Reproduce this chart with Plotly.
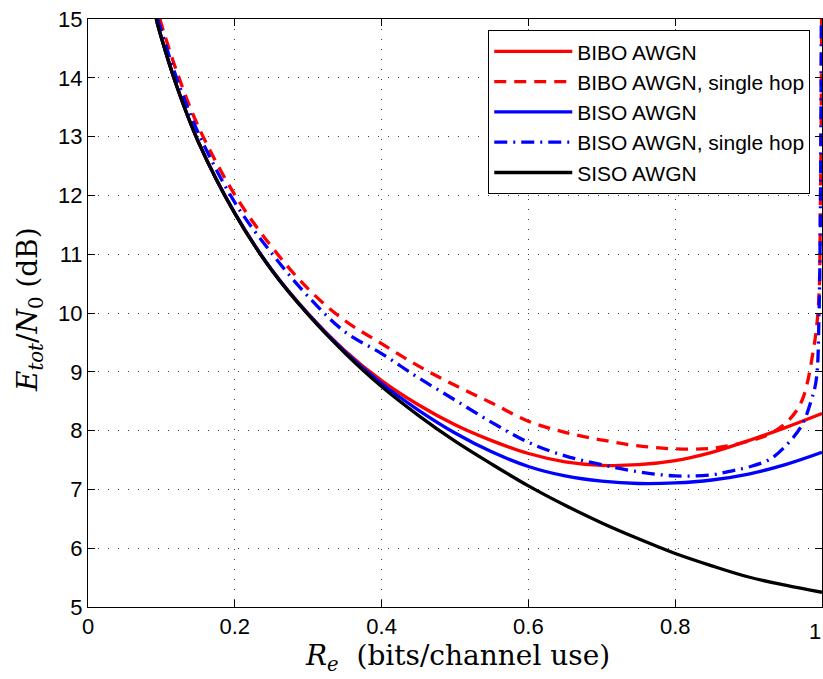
import plotly.graph_objects as go

# ---- data ----
siso_x = [0.093, 0.1, 0.12, 0.15, 0.2, 0.25, 0.3, 0.35, 0.4, 0.45, 0.5, 0.55, 0.6, 0.65, 0.7, 0.75, 0.8, 0.85, 0.9, 0.95, 1.0]
siso_y = [15.0, 14.68, 13.89, 12.92, 11.69, 10.73, 9.97, 9.32, 8.75, 8.26, 7.82, 7.43, 7.06, 6.73, 6.43, 6.16, 5.91, 5.70, 5.51, 5.37, 5.25]

bibo_x = [0.093, 0.1, 0.12, 0.15, 0.2, 0.25, 0.3, 0.35, 0.4, 0.45, 0.5, 0.55, 0.6, 0.65, 0.7, 0.75, 0.8, 0.85, 0.9, 0.95, 1.0]
bibo_y = [15.0, 14.68, 13.89, 12.92, 11.70, 10.74, 9.99, 9.36, 8.85, 8.44, 8.10, 7.83, 7.61, 7.47, 7.41, 7.42, 7.49, 7.63, 7.83, 8.05, 8.29]

biso_x = [0.093, 0.1, 0.12, 0.15, 0.2, 0.25, 0.3, 0.35, 0.4, 0.45, 0.5, 0.55, 0.6, 0.65, 0.7, 0.75, 0.8, 0.85, 0.9, 0.95, 1.0]
biso_y = [15.0, 14.68, 13.89, 12.92, 11.70, 10.74, 9.98, 9.34, 8.80, 8.35, 7.96, 7.64, 7.39, 7.23, 7.14, 7.10, 7.11, 7.16, 7.26, 7.42, 7.63]

bibo_sh_x = [0.098, 0.1, 0.12, 0.15, 0.2, 0.25, 0.3, 0.35, 0.4, 0.45, 0.5, 0.55, 0.6, 0.65, 0.7, 0.75, 0.8, 0.85, 0.9, 0.93, 0.955, 0.973, 0.988, 0.995, 0.998, 0.9995]
bibo_sh_y = [15.0, 14.91, 14.14, 13.18, 12.01, 11.13, 10.41, 9.87, 9.48, 9.10, 8.77, 8.47, 8.16, 7.97, 7.84, 7.74, 7.69, 7.70, 7.82, 7.95, 8.18, 8.52, 9.35, 10.1, 12.0, 15.0]

biso_sh_x = [0.095, 0.1, 0.12, 0.15, 0.2, 0.25, 0.3, 0.35, 0.4, 0.45, 0.5, 0.55, 0.6, 0.65, 0.7, 0.75, 0.8, 0.85, 0.879, 0.9, 0.93, 0.955, 0.973, 0.985, 0.992, 0.996, 0.999]
biso_sh_y = [15.0, 14.80, 14.02, 13.07, 11.88, 11.02, 10.28, 9.68, 9.31, 8.90, 8.52, 8.14, 7.80, 7.57, 7.42, 7.30, 7.23, 7.25, 7.32, 7.38, 7.52, 7.80, 8.10, 8.50, 8.85, 10.0, 15.0]

x_ticks = [0, 0.2, 0.4, 0.6, 0.8, 1]
x_tick_labels = ["0", "0.2", "0.4", "0.6", "0.8", ""]
x_last_label = "1"
y_ticks = [5, 6, 7, 8, 9, 10, 11, 12, 13, 14, 15]

series = [
    ("BIBO AWGN", bibo_x, bibo_y, "#ff0000", "solid"),
    ("BIBO AWGN, single hop", bibo_sh_x, bibo_sh_y, "#ff0000", "12px,8px"),
    ("BISO AWGN", biso_x, biso_y, "#0000ff", "solid"),
    ("BISO AWGN, single hop", biso_sh_x, biso_sh_y, "#0000ff", "13px,6px,2px,6px"),
    ("SISO AWGN", siso_x, siso_y, "#000000", "solid"),
]

fig = go.Figure()
for name, xs, ys, col, dash in series:
    fig.add_trace(go.Scatter(
        x=xs, y=ys, name=name, mode="lines",
        line=dict(color=col, width=3.3, dash=dash, shape="spline", smoothing=1.0),
    ))

tick_font = dict(family="Liberation Sans, Arial, sans-serif", size=22, color="black")
axis_common = dict(
    showline=True, linecolor="black", linewidth=1, mirror="ticks",
    ticks="inside", ticklen=7, tickcolor="black", tickwidth=1,
    showgrid=True, gridcolor="rgba(0,0,0,0.75)", gridwidth=1, griddash="1px,9px",
    zeroline=False, automargin=False,
    tickfont=tick_font,
)

fig.update_xaxes(range=[0, 1], tickvals=x_ticks, ticktext=x_tick_labels, **axis_common)
fig.update_yaxes(range=[5, 15], tickvals=y_ticks, **axis_common)

fig.update_layout(
    width=823, height=679,
    margin=dict(l=88, r=1, t=19, b=72, autoexpand=False),
    paper_bgcolor="white", plot_bgcolor="white",
    showlegend=True,
    legend=dict(
        x=0.984, y=0.981, xanchor="right", yanchor="top",
        bgcolor="white", bordercolor="black", borderwidth=1,
        font=dict(family="Liberation Sans, Arial, sans-serif", size=21, color="black"),
        itemwidth=78, tracegroupgap=0,
    ),
    annotations=[
        dict(text=x_last_label, xref="paper", yref="paper", x=1.0, y=0.0,
             xanchor="right", yanchor="middle", xshift=1, yshift=-24,
             showarrow=False, font=tick_font),
        dict(text="<i>R</i><sub><i>e</i></sub>  (bits/channel use)",
             xref="paper", yref="paper", x=0.504, y=-0.0856, xanchor="center", yanchor="middle",
             showarrow=False, font=dict(family="DejaVu Serif, serif", size=28, color="black")),
        dict(text="<i>E</i><sub><i>tot</i></sub>/<i>N</i><sub>0</sub> (dB)",
             xref="paper", yref="paper", x=-0.0805, y=0.5066, xanchor="center", yanchor="middle",
             textangle=-90, showarrow=False,
             font=dict(family="DejaVu Serif, serif", size=28, color="black")),
    ],
)

fig.write_html("out.html")
